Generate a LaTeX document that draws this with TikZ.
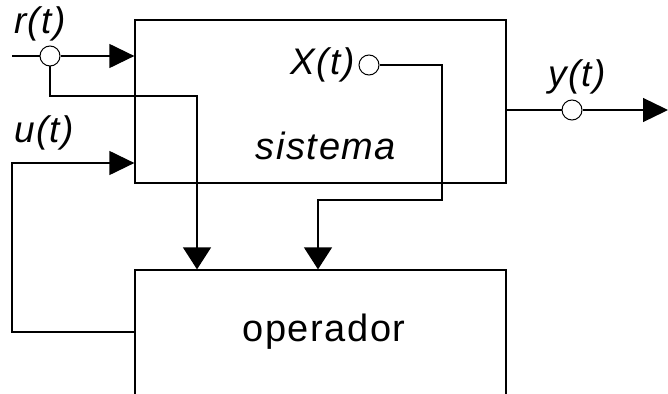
\documentclass[tikz,border=0pt]{standalone}
\usepackage{fontspec}
\setmainfont{Liberation Sans}
\usetikzlibrary{arrows.meta}
\usetikzlibrary{positioning}

\tikzset{blk/.style={draw, rectangle, inner sep=0pt, minimum width=371pt},
         punto/.style={draw, circle, fill=white, inner sep=0pt, minimum size=20pt, line width=1pt},
         sig/.style={font=\fontsize{37}{40}\selectfont\addfontfeature{LetterSpace=4}\itshape, inner sep=0pt},
         flecha/.style={-{Triangle[length=25pt,width=24pt]}},
         bajada/.style={-{Triangle[length=22pt,width=28pt]}}}

\begin{document}
\begin{tikzpicture}[x=1pt,y=-1pt, line width=1.3pt]
\useasboundingbox (0,0) rectangle (668,393);
% bloques
\node[blk, minimum height=163pt] (sist) at (320.5,101.5) {};
\node[blk, minimum height=140pt] (oper) at (320.5,340) {};
\node[font=\fontsize{38}{40}\selectfont\addfontfeature{LetterSpace=4}\itshape] at (326,146) {sistema};
\node[font=\fontsize{38}{40}\selectfont\addfontfeature{LetterSpace=4}] at (324,332) {operador};
% puntos de medida
\node[punto] (rp) at (50,56) {};
\node[punto] (xp) at (369,65) {};
\node[punto] (yp) at (572,110) {};
\node[sig] at (40,24) {r(t)};
\node[sig] at (44,133) {u(t)};
\node[sig] at (577,77) {y(t)};
\node[sig, left=3pt of xp] {X(t)};
\coordinate (rin) at (12,56);
\coordinate (uin) at (12,163);
\coordinate (yout) at (668,110);
% conexiones
\draw (rin) -- (rp);
\draw[flecha] (rp) -- (sist.west |- rp);
\draw[bajada] (rp.south) |- (197,96) -- (oper.north -| 197,0);
\draw[bajada] (xp) -| (442,200) -| (oper.north -| 318,0);
\draw (sist.east |- yp) -- (yp);
\draw[flecha] (yp) -- (yout);
\draw[flecha] (oper.west |- 0,332) -| (uin) -- (sist.west |- uin);
\end{tikzpicture}
\end{document}
